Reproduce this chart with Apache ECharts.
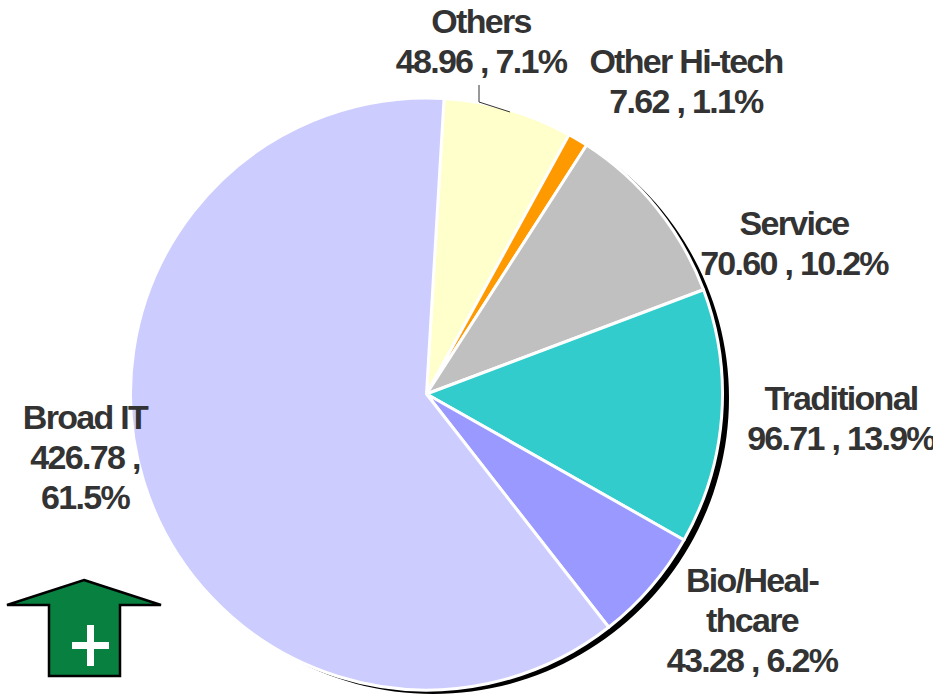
<!DOCTYPE html>
<html>
<head>
<meta charset="utf-8">
<style>
  html, body { margin: 0; padding: 0; background: #fff; }
  #main { width: 933px; height: 700px; }
  #main svg text { letter-spacing: -1.7px; }
</style>
<script src="https://cdn.jsdelivr.net/npm/echarts@6/dist/echarts.min.js"></script>
</head>
<body>
<div id="main"></div>
<script>
var names = ["Others", "Other Hi-tech", "Service", "Traditional", "Bio/Heal-\nthcare", "Broad IT"];
var values = [48.96, 7.62, 70.60, 96.71, 43.28, 426.78];
var percents = ["7.1", "1.1", "10.2", "13.9", "6.2", "61.5"];
var colors = ["#FFFFCC", "#FF9900", "#C0C0C0", "#33CCCC", "#9999FF", "#CCCCFF"];
// label centres, placed by hand like the original
var labelX = [481, 686, 794, 841, 752, 85];
var labelY = [41, 81, 243, 418, 620, 457];

var myChart = echarts.init(document.getElementById("main"), null, { renderer: "svg" });

var dataList = [];
for (var i = 0; i < names.length; i++) {
  dataList.push({ name: names[i], value: values[i], itemStyle: { color: colors[i] } });
}

var option = {
  animation: false,
  graphic: [
    // drop shadow behind the pie
    { type: "circle", z: 0, shape: { cx: 433, cy: 398, r: 296 }, style: { fill: "#000" } },
    // leader line of Others
    { type: "polyline", z: 10, shape: { points: [[479, 85], [479, 102], [510, 112]] }, style: { fill: null, stroke: "#333", lineWidth: 1 } },
    // green arrow
    { type: "polygon", z: 10, shape: { points: [[84, 580], [161, 605], [120, 605], [120, 676], [49, 676], [49, 605], [7, 605]] }, style: { fill: "#078040", stroke: "#000", lineWidth: 2.5 } },
    { type: "rect", z: 11, shape: { x: 72, y: 642, width: 37, height: 7 }, style: { fill: "#fff" } },
    { type: "rect", z: 11, shape: { x: 87, y: 625, width: 7, height: 41 }, style: { fill: "#fff" } }
  ],
  series: [{
    type: "pie",
    center: [426.5, 394],
    radius: [0, 296],
    startAngle: 86.6,
    clockwise: true,
    percentPrecision: 1,
    avoidLabelOverlap: false,
    silent: true,
    itemStyle: { borderColor: "#fff", borderWidth: 3 },
    label: {
      show: true,
      position: "outer",
      overflow: "none",
      color: "#333",
      fontFamily: "Liberation Sans",
      fontWeight: "bold",
      fontSize: 34,
      lineHeight: 40,
      align: "center",
      verticalAlign: "middle",
      formatter: function (p) {
        var i = p.dataIndex;
        var sep = names[i] === "Broad IT" ? " ,\n" : " , ";
        return names[i] + "\n" + values[i].toFixed(2) + sep + percents[i] + "%";
      }
    },
    labelLine: { show: false },
    labelLayout: function (p) {
      return { x: labelX[p.dataIndex], y: labelY[p.dataIndex], align: "center", verticalAlign: "middle" };
    },
    data: dataList
  }]
};

myChart.setOption(option);
</script>
</body>
</html>
